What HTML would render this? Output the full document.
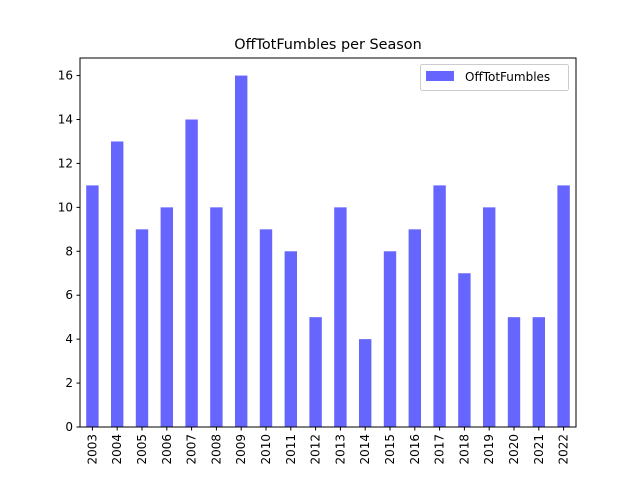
<!DOCTYPE html>
<html><head><meta charset="utf-8"><style>
body{margin:0;background:#fff;}
svg{display:block;font-family:"DejaVu Sans","Liberation Sans",sans-serif;}
</style></head><body>
<svg id="chart" width="640" height="480">
<text x="328" y="49" text-anchor="middle" font-size="14.4">OffTotFumbles per Season</text>
<g id="bars"></g>
<g id="axes"></g>
<rect x="80" y="58" width="496" height="369" fill="none" stroke="#000" stroke-width="1"/>
<g>
<rect x="420.5" y="64.5" width="148" height="26" rx="2" fill="#fff" stroke="#ccc"/>
<rect x="426" y="71" width="28" height="10" fill="#6666ff"/>
<text x="465" y="81" font-size="12">OffTotFumbles</text>
</g>
<text x="328" y="492" text-anchor="middle" font-size="12">Season</text>
</svg>
<script>
const categories=["2003","2004","2005","2006","2007","2008","2009","2010","2011","2012","2013","2014","2015","2016","2017","2018","2019","2020","2021","2022"];
const values=[11,13,9,10,14,10,16,9,8,5,10,4,8,9,11,7,10,5,5,11];
const yTicks=[0,2,4,6,8,10,12,14,16];
const NS="http://www.w3.org/2000/svg";
const L=80,R=576,T=58,B=427,yMax=16.8;
const step=(R-L)/categories.length;
function x(i){return L+step*(i+0.5);}
function y(v){return B-v/yMax*(B-T);}
const bars=document.getElementById('bars'),axes=document.getElementById('axes');
values.forEach((v,i)=>{
 const r=document.createElementNS(NS,'rect');
 r.setAttribute('x',x(i)-step/4);r.setAttribute('width',step/2);
 r.setAttribute('y',y(v));r.setAttribute('height',B-y(v));
 r.setAttribute('fill','#6666ff');
 
 
 bars.appendChild(r);
 const t=document.createElementNS(NS,'line');
 t.setAttribute('x1',x(i));t.setAttribute('x2',x(i));t.setAttribute('y1',B);t.setAttribute('y2',B+3.5);t.setAttribute('stroke','#000');
 axes.appendChild(t);
 const lb=document.createElementNS(NS,'text');
 lb.setAttribute('transform','translate('+(x(i)+4)+','+(B+7)+') rotate(-90)');
 lb.setAttribute('text-anchor','end');lb.setAttribute('font-size','12');
 lb.textContent=categories[i];
 
 
 axes.appendChild(lb);
});
yTicks.forEach(v=>{
 const t=document.createElementNS(NS,'line');
 t.setAttribute('x1',L-3.5);t.setAttribute('x2',L);t.setAttribute('y1',y(v));t.setAttribute('y2',y(v));t.setAttribute('stroke','#000');
 axes.appendChild(t);
 const lb=document.createElementNS(NS,'text');
 lb.setAttribute('x',L-7);lb.setAttribute('y',y(v)+4);lb.setAttribute('text-anchor','end');lb.setAttribute('font-size','12');
 lb.textContent=v;
 
 
 axes.appendChild(lb);
});
</script>
</body></html>
